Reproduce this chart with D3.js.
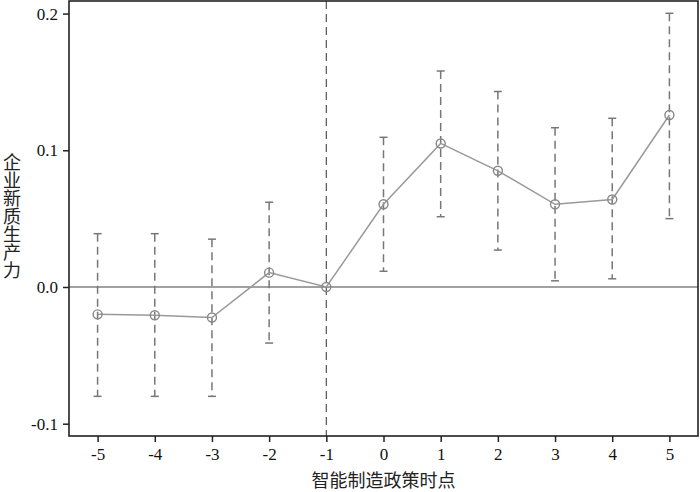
<!DOCTYPE html>
<html><head><meta charset="utf-8">
<script src="https://cdn.jsdelivr.net/npm/d3@7"></script>
<style>body{margin:0;background:#fff}</style>
</head><body>
<svg id="c" width="700" height="492"></svg>
<script>
const periods = [-5,-4,-3,-2,-1,0,1,2,3,4,5];
const coef    = [-0.020,-0.0207,-0.0223,0.0105,0,0.0605,0.105,0.085,0.0605,0.064,0.1258];
const ciHigh  = [0.039,0.039,0.035,0.062,null,0.1095,0.158,0.143,0.1165,0.1234,0.2002];
const ciLow   = [-0.080,-0.080,-0.080,-0.041,null,0.0115,0.0514,0.027,0.0045,0.006,0.050];
const yTicks  = [-0.1,0.0,0.1,0.2];
const xLabel = "智能制造政策时点";
const yLabel = "企业新质生产力";

const svg = d3.select("#c");
const L=69,R=698,T=1,B=436;
const x = d3.scaleLinear().domain([-5.5,5.5]).range([L,R]);
const y = d3.scaleLinear().domain([-0.1090,0.2092]).range([B,T]);
const serif = "'Liberation Serif','Times New Roman',serif";
const cjk = "'Noto Sans CJK SC',sans-serif";

// zero line
svg.append("line").attr("x1",L).attr("x2",R).attr("y1",y(0)).attr("y2",y(0))
  .attr("stroke","#444").attr("stroke-width",1.2);
// vertical dashed reference line
svg.append("line").attr("x1",x(-1)).attr("x2",x(-1)).attr("y1",T).attr("y2",B)
  .attr("stroke","#555").attr("stroke-width",1.2).attr("stroke-dasharray","8,5");

const data = periods.map((p,i)=>({p,c:coef[i],hi:ciHigh[i],lo:ciLow[i]}));
const ci = data.filter(d=>d.hi!==null);
// error bars
svg.selectAll(".eb").data(ci).enter().append("line")
  .attr("x1",d=>x(d.p)).attr("x2",d=>x(d.p)).attr("y1",d=>y(d.hi)).attr("y2",d=>y(d.lo))
  .attr("stroke","#777").attr("stroke-width",1.5).attr("stroke-dasharray","8,5");
["hi","lo"].forEach(k=>{
  svg.selectAll(".cap"+k).data(ci).enter().append("line")
    .attr("x1",d=>x(d.p)-4).attr("x2",d=>x(d.p)+4).attr("y1",d=>y(d[k])).attr("y2",d=>y(d[k]))
    .attr("stroke","#777").attr("stroke-width",1.5);
});
// line
svg.append("path").datum(data)
  .attr("d",d3.line().x(d=>x(d.p)).y(d=>y(d.c)))
  .attr("fill","none").attr("stroke","#999").attr("stroke-width",1.5);
svg.selectAll(".pt").data(data).enter().append("circle")
  .attr("cx",d=>x(d.p)).attr("cy",d=>y(d.c)).attr("r",4.5)
  .attr("fill","none").attr("stroke","#888").attr("stroke-width",1.4);

// frame
svg.append("rect").attr("x",L).attr("y",T).attr("width",R-L).attr("height",B-T)
  .attr("fill","none").attr("stroke","#222").attr("stroke-width",1.6);

// axes
const xa = svg.append("g").attr("transform",`translate(0,${B})`)
  .call(d3.axisBottom(x).tickValues(periods).tickSize(6).tickSizeOuter(0).tickPadding(6).tickFormat(d3.format("d")));
const ya = svg.append("g").attr("transform",`translate(${L},0)`)
  .call(d3.axisLeft(y).tickValues(yTicks).tickSize(6).tickSizeOuter(0).tickPadding(5)
    .tickFormat(d=>d3.format(".1f")(d).replace("−","-")));
[xa,ya].forEach(g=>{
  g.attr("font-family",null).attr("font-size",null);
  g.select(".domain").remove();
  g.selectAll(".tick line").attr("stroke","#222").attr("stroke-width",1.5);
  g.selectAll("text").style("font-family",serif).style("font-size","17px").attr("fill","#111");
});
xa.selectAll(".tick text").text(d=>String(d).replace("−","-"));

// labels
svg.append("text").attr("x",(L+R)/2).attr("y",487).attr("text-anchor","middle")
  .style("font-family",cjk).style("font-size","18px").attr("fill","#222").text(xLabel);
svg.append("text").attr("x",12).attr("y",153)
  .style("font-family",cjk).style("font-size","18px").style("writing-mode","vertical-rl")
  .style("text-orientation","upright").attr("fill","#222").text(yLabel);
</script>
</body></html>
